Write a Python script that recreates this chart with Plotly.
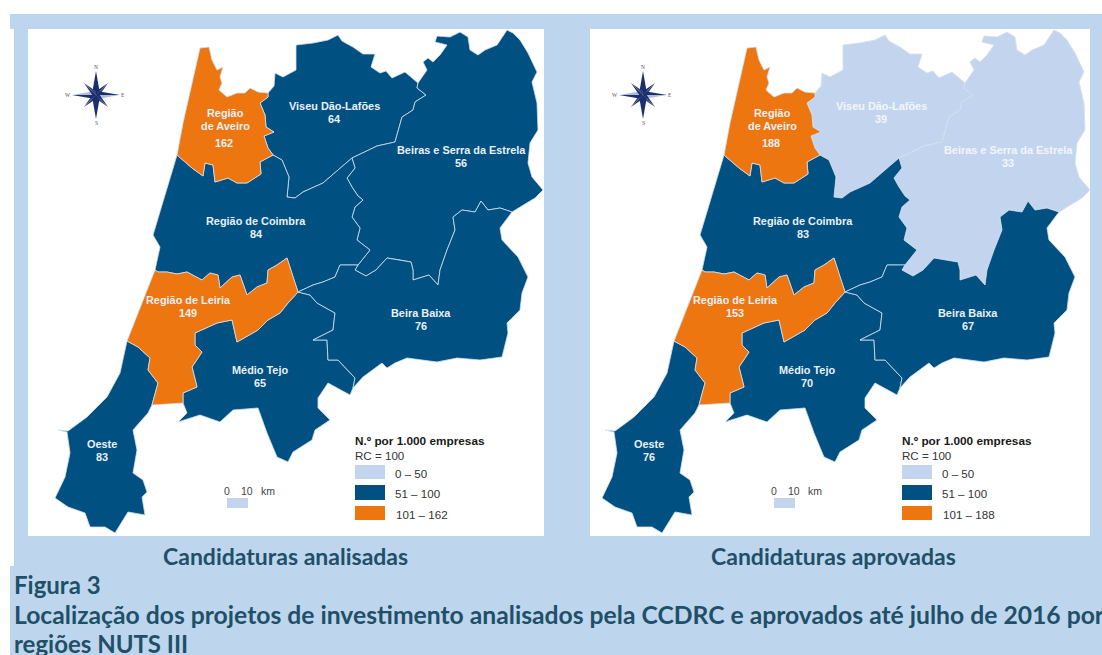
import numpy as np
import plotly.graph_objects as go

# ---------- data ----------
REGIONS = ["Região de Aveiro", "Viseu Dão-Lafões", "Beiras e Serra da Estrela", "Região de Coimbra",
           "Região de Leiria", "Médio Tejo", "Beira Baixa", "Oeste"]
ANALISADAS = [162, 64, 56, 84, 149, 65, 76, 83]
APROVADAS = [188, 39, 33, 83, 153, 70, 67, 76]
LEGEND_ANALISADAS = ["0 – 50", "51 – 100", "101 – 162"]
LEGEND_APROVADAS = ["0 – 50", "51 – 100", "101 – 188"]
CAPTIONS = ["Candidaturas analisadas", "Candidaturas aprovadas"]
FIG_TITLE = ["Figura 3",
             "Localização dos projetos de investimento analisados pela CCDRC e aprovados até julho de 2016 por",
             "regiões NUTS III"]

# shared boundary arcs of the NUTS III regions
AV_W = [(177,155),(183,123),(200,48),(209,47),(212,60),(217,70),(223,67),(220,77),(222,83),(219,90),(227,97),(237,93),(245,93),(250,88),(258,92),(268,93)]
AV_VI = [(268,93),(268,97),(260,103),(265,115),(266,127),(274,132),(264,136),(268,148),(273,155)]
AV_CO = [(273,155),(260,162),(261,174),(247,183),(237,183),(228,178),(215,182),(213,165),(205,163),(203,176),(192,168),(177,155)]
VI_N = [(268,93),(274,86),(275,73),(283,77),(296,70),(296,45),(313,43),(328,40),(338,35),(342,41),(353,47),(363,54),(375,54),(371,67),(380,73),(386,71),(392,78),(405,72),(418,83)]
VI_BE = [(418,83),(417,88),(426,95),(415,102),(413,110),(402,117),(395,142),(377,146),(352,158)]
VI_CO = [(352,158),(338,170),(323,183),(303,192),(295,198),(287,197),(289,177),(282,160),(273,155)]
CO_BE = [(352,158),(355,168),(347,178),(352,187),(358,196),(363,200),(355,207),(352,217),(360,228),(357,240),(370,250),(358,265)]
CO_BA = [(358,265),(340,265),(335,277),(323,282),(313,285),(298,292)]
BE_BA = [(358,265),(355,270),(366,276),(376,270),(387,258),(400,260),(411,262),(413,270),(413,280),(429,275),(438,285),(440,270),(447,250),(455,230),(453,217),(462,210),(475,212),(481,201),(488,210),(500,208),(512,212)]
BE_N = [(418,83),(427,70),(423,62),(428,58),(433,62),(440,55),(447,45),(435,42),(437,36),(450,37),(460,32),(468,37),(470,50),(478,55),(485,50),(497,45),(507,30),(513,33),(520,40),(528,53),(537,72),(532,82),(537,103),(538,130),(530,143),(528,163),(532,177),(543,190),(535,198),(512,212)]
BA_E = [(512,212),(500,228),(502,240),(518,257),(528,277),(522,293),(520,310),(507,323),(508,333),(502,357),(480,360),(457,358),(437,362),(407,358),(395,363),(387,368),(382,363),(363,377),(353,388)]
BA_TE = [(353,388),(355,378),(338,360),(328,360),(327,340),(313,340),(323,335),(333,330),(335,313),(317,303),(310,295),(298,292)]
LE_TE = [(298,292),(288,303),(280,313),(268,320),(258,330),(237,342),(232,320),(217,323),(195,333),(195,345),(202,352),(192,367),(197,387),(183,393),(183,403)]
TE_S = [(183,403),(187,413),(178,422),(200,415),(220,422),(233,410),(258,408),(267,433),(277,457),(288,462),(293,452),(312,440),(315,430),(330,420),(318,408),(318,398),(328,383),(350,395),(353,388)]
LE_S = [(183,403),(152,405)]
LE_OE = [(152,405),(158,383),(148,370),(150,358),(138,347),(127,341)]
LE_W = [(127,341),(155,270)]
LE_CO = [(155,270),(158,272),(167,272),(177,274),(187,272),(202,280),(210,273),(218,275),(220,288),(232,277),(240,275),(247,295),(257,287),(267,283),(268,270),(277,265),(287,258),(293,277),(298,292)]
CO_W = [(177,155),(153,235),(160,247),(155,270)]
OE_S = [(152,405),(148,413),(133,430),(137,450),(133,473),(143,480),(147,492),(142,497),(145,515),(128,512),(115,533),(105,527),(90,527),(85,513),(68,507),(55,498),(65,477),(70,453),(67,432),(58,430),(68,431),(87,417),(107,397),(120,373),(127,341)]

rev = lambda a: a[::-1]
SHAPES = [AV_W + AV_VI + AV_CO,
          VI_N + VI_BE + VI_CO + rev(AV_VI),
          BE_N + rev(BE_BA) + rev(CO_BE) + rev(VI_BE),
          CO_W + LE_CO + rev(CO_BA) + rev(CO_BE) + VI_CO + AV_CO,
          LE_CO + LE_TE + LE_S + LE_OE + LE_W,
          LE_TE + TE_S + BA_TE,
          BA_E + BA_TE + rev(CO_BA) + BE_BA,
          rev(LE_OE) + OE_S]

# label positions (one list of (line, x, y) per region) on the left map
LABELS = [[("Região",225,113),("de Aveiro",225,126),("{v}",224,143)],
          [("Viseu Dão-Lafões",334,106),("{v}",334,119)],
          [("Beiras e Serra da Estrela",461,150),("{v}",461,163)],
          [("Região de Coimbra",256,221),("{v}",256,234)],
          [("Região de Leiria",188,300),("{v}",188,313)],
          [("Médio Tejo",260,370),("{v}",260,383)],
          [("Beira Baixa",421,313),("{v}",421,326)],
          [("Oeste",102,444),("{v}",102,457)]]

# ---------- style ----------
BG = "#BDD6EE"
LIGHT = "#C3D5EE"
NAVY = "#005082"
ORANGE = "#EE7610"
BORDER = "#D3E0EE"
CAP = "#1F5068"
DX = 547
MAP_FONT = "Liberation Sans"
CAP_FONT = "Lato"

def colour(v):
    return LIGHT if v <= 50 else NAVY if v <= 100 else ORANGE

fig = go.Figure()
shapes = []
ann = []

def rect(x0, y0, x1, y1, c):
    shapes.append(dict(type="rect", xref="x", yref="y", x0=x0, y0=y0, x1=x1, y1=y1,
                       fillcolor=c, line=dict(width=0), layer="below"))

def text(s, x, y, size, col, bold=False, anchor="center", font=MAP_FONT):
    ann.append(dict(xref="x", yref="y", x=x, y=y, text=f"<b>{s}</b>" if bold else s, showarrow=False,
                    xanchor=anchor, yanchor="middle", align=anchor,
                    font=dict(family=font, size=size, color=col), borderpad=0, borderwidth=0))

# page background
rect(10, 14, 1102, 29, BG)
rect(14, 29, 1102, 566, BG)
rect(10, 566, 1102, 655, BG)
rect(28, 29, 544, 536, "#FFFFFF")
rect(590, 29, 1090, 536, "#FFFFFF")

def draw_map(values, legend, dx):
    order = np.argsort([v > 100 for v in values], kind="stable")
    for i in order:
        pts = np.array(SHAPES[i], float)
        fig.add_trace(go.Scatter(x=pts[:, 0] + dx, y=pts[:, 1], mode="lines", fill="toself",
                                 fillcolor=colour(values[i]), line=dict(color=BORDER, width=0.8),
                                 hoverinfo="skip", showlegend=False, name=REGIONS[i]))
        for s, x, y in LABELS[i]:
            txt = s.format(v=values[i])
            c = "#F2F6FB" if values[i] <= 50 else "#EAF0F6"
            text(txt, x + dx, y, 10.9, c, bold=True)
    # compass rose
    cx, cy = 96 + dx, 95
    for k in range(8):
        a = k * np.pi / 4
        L, w = (24, 3.6) if k % 2 == 0 else (17, 2.6)
        for side, col in ((-1, "#1B2F6E"), (1, "#1B2F6E" if k % 4 == 0 else "#AEBBD6" if k % 2 == 0 else "#33477F")):
            base = np.array([[0, -L], [side * w, -w], [0, 0]])
            R = np.array([[np.cos(a), -np.sin(a)], [np.sin(a), np.cos(a)]])
            p = base @ R.T
            fig.add_trace(go.Scatter(x=p[:, 0] + cx, y=p[:, 1] + cy, mode="lines", fill="toself",
                                     fillcolor=col, line=dict(width=0), hoverinfo="skip", showlegend=False))
    for s, x, y in (("N",96,67),("S",96,123),("W",68,95),("E",123,95)):
        text(s, x + dx, y, 5.5, "#555555", font="Liberation Serif")
    # scale bar
    rect(227 + dx, 498, 248 + dx, 508, LIGHT)
    text("0", 227 + dx, 491, 10.5, "#444444")
    text("10", 247 + dx, 491, 10.5, "#444444")
    text("km", 268 + dx, 491, 10.5, "#444444")
    # legend
    text("N.º por 1.000 empresas", 355 + dx, 441, 11.8, "#1A1A1A", bold=True, anchor="left")
    text("RC = 100", 355 + dx, 455, 11.6, "#333333", anchor="left")
    for lab, y0, y1, c, lx in zip(legend, (465, 485, 506), (479, 500, 520), (LIGHT, NAVY, ORANGE), (395, 395, 396)):
        rect(355 + dx, y0, 385 + dx, y1, c)
        text(lab, lx + dx, (y0 + y1) / 2 + 1, 11.6, "#333333", anchor="left")

draw_map(ANALISADAS, LEGEND_ANALISADAS, 0)
draw_map(APROVADAS, LEGEND_APROVADAS, DX)

text(CAPTIONS[0], 285, 556, 23, CAP, bold=True, font=CAP_FONT)
text(CAPTIONS[1], 833, 556, 23, CAP, bold=True, font=CAP_FONT)
text(FIG_TITLE[0], 14, 584, 24, CAP, bold=True, anchor="left", font=CAP_FONT)
text(FIG_TITLE[1], 14, 614, 24.7, CAP, bold=True, anchor="left", font=CAP_FONT)
text(FIG_TITLE[2], 14, 643, 24, CAP, bold=True, anchor="left", font=CAP_FONT)

fig.update_layout(width=1102, height=655, autosize=False, margin=dict(l=0, r=0, t=0, b=0, pad=0),
                  paper_bgcolor="#FFFFFF", plot_bgcolor="#FFFFFF", showlegend=False,
                  xaxis=dict(range=[0, 1102], visible=False, fixedrange=True),
                  yaxis=dict(range=[655, 0], visible=False, fixedrange=True),
                  shapes=shapes, annotations=ann)
fig.write_html("out.html", config=dict(displayModeBar=False),
               post_script="document.body.style.margin='0';document.body.style.overflow='hidden';")
